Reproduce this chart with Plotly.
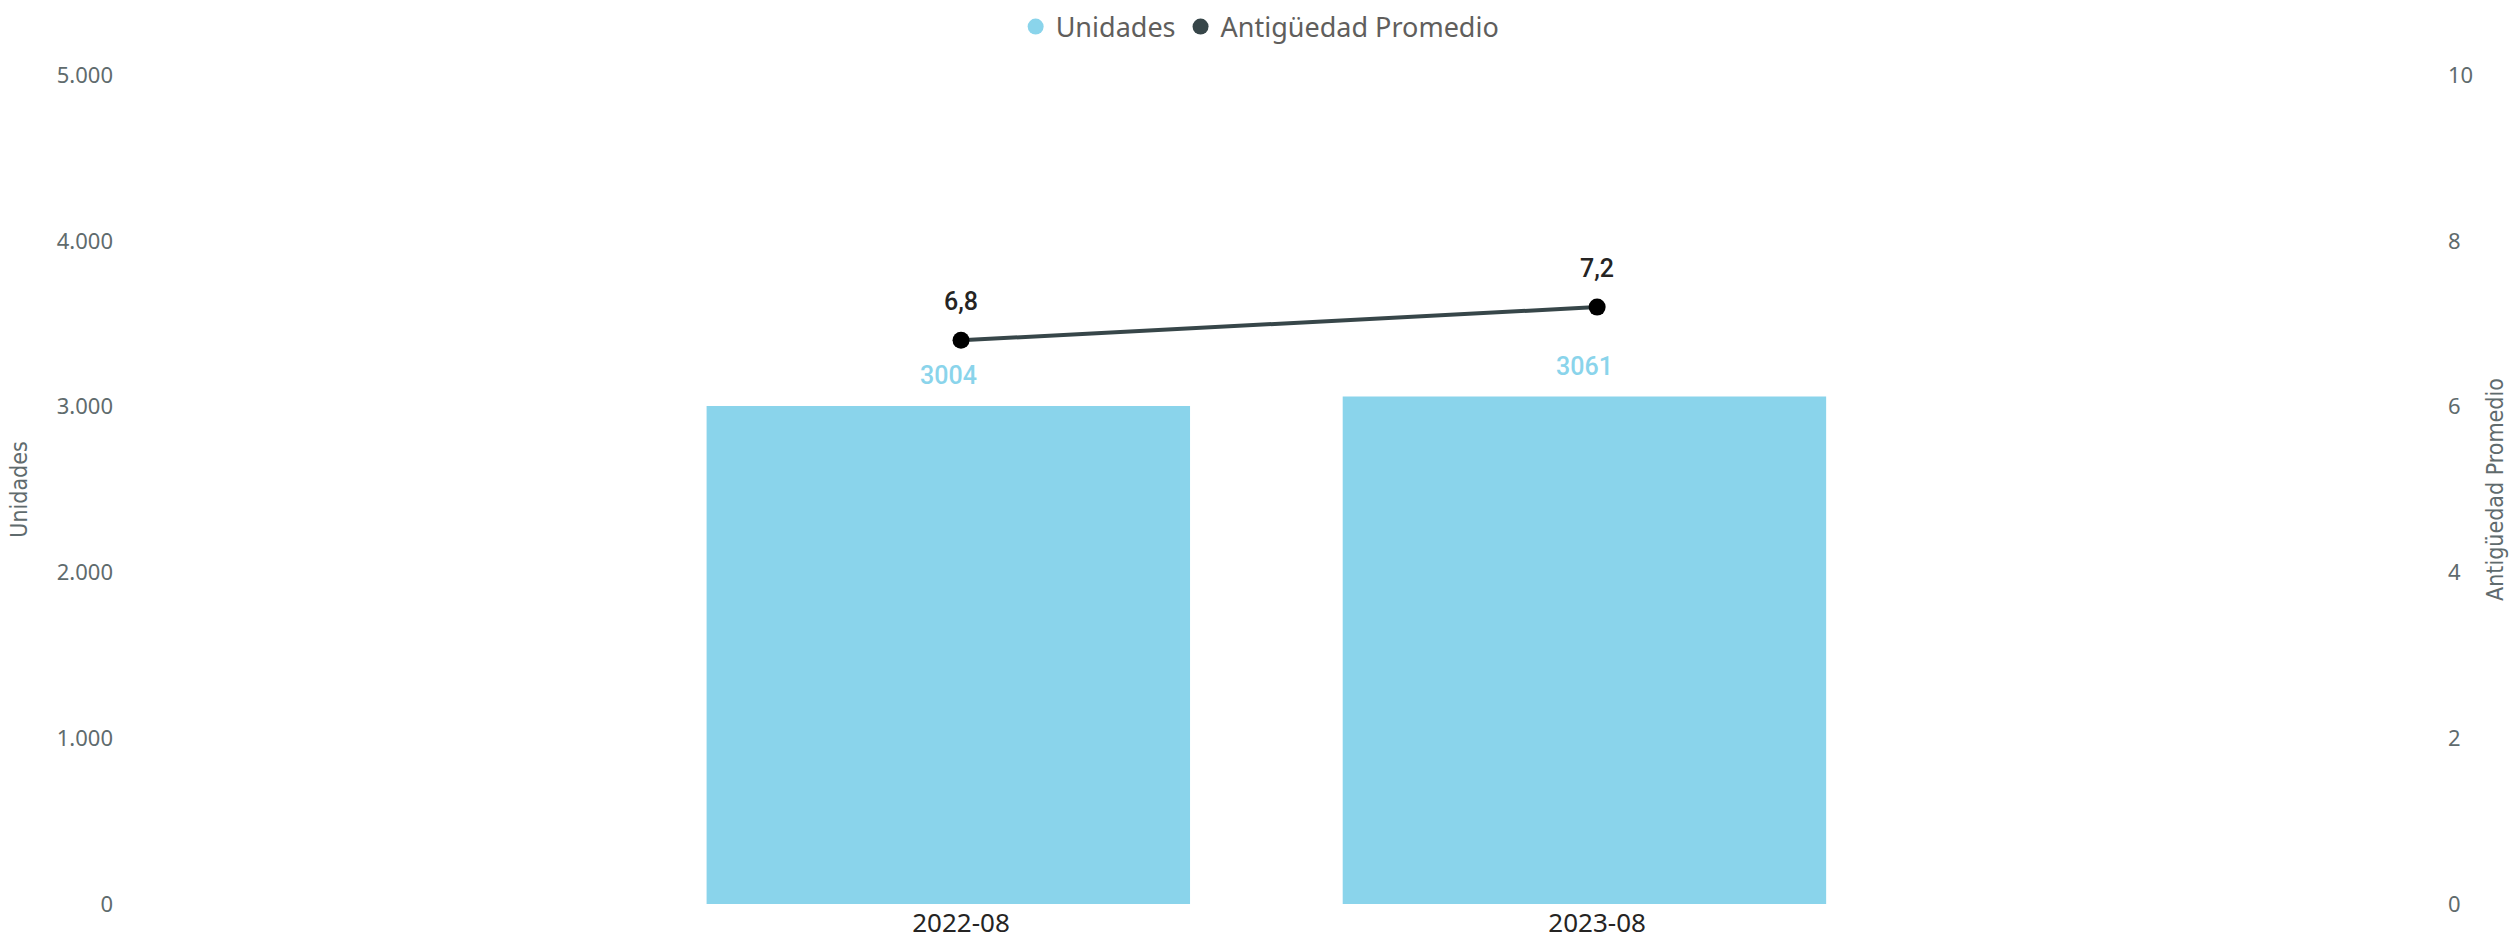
import plotly.graph_objects as go

categories = ["2022-08", "2023-08"]
unidades = [3004, 3061]
antiguedad = [6.8, 7.2]

left_ticks = [0, 1000, 2000, 3000, 4000, 5000]
right_ticks = [0, 2, 4, 6, 8, 10]

BAR_COLOR = "#8AD4EB"
LINE_COLOR = "#374649"
TICK_COLOR = "#5F6B6D"
BASE_FONT = "Segoe UI, Noto Sans, Open Sans, sans-serif"
LABEL_FONT = "Roboto, DejaVu Sans, sans-serif"
TITLE_FONT = "Liberation Sans Narrow, DejaVu Sans Condensed, sans-serif"

fig = go.Figure()

fig.add_trace(go.Bar(
    x=categories, y=unidades, name="Unidades",
    marker=dict(color=BAR_COLOR, line=dict(width=0)),
    width=0.76, offset=-0.40, showlegend=False,
    yaxis="y", hoverinfo="x+y",
))

fig.add_trace(go.Scatter(
    x=categories, y=antiguedad, name="Antigüedad Promedio",
    mode="lines+markers",
    line=dict(color=LINE_COLOR, width=4),
    marker=dict(color="#000000", size=17),
    yaxis="y2", showlegend=False,
))

# legend-only entries (circle symbols as in the reference)
fig.add_trace(go.Scatter(x=[None], y=[None], mode="markers", name="Unidades",
                         marker=dict(color=BAR_COLOR, size=22), showlegend=True))
fig.add_trace(go.Scatter(x=[None], y=[None], mode="markers", name="Antigüedad Promedio",
                         marker=dict(color=LINE_COLOR, size=22), showlegend=True))

annotations = []
for c, v in zip(categories, unidades):
    annotations.append(dict(
        x=c, y=v, xref="x", yref="y", text=str(v), showarrow=False,
        xshift=-13, yshift=30, yanchor="middle",
        font=dict(family=LABEL_FONT, size=25, color=BAR_COLOR, weight=500),
    ))
for c, v in zip(categories, antiguedad):
    annotations.append(dict(
        x=c, y=v, xref="x", yref="y2", text=f"{v:.1f}".replace(".", ","),
        showarrow=False, yshift=39, yanchor="middle",
        font=dict(family=LABEL_FONT, size=25, color="#252423", weight=500),
    ))

fig.update_layout(
    width=2512, height=943,
    margin=dict(l=122, r=72, t=75, b=39, autoexpand=False),
    paper_bgcolor="white", plot_bgcolor="white",
    separators=",.",
    font=dict(family=BASE_FONT, color=TICK_COLOR),
    showlegend=True,
    legend=dict(
        orientation="h", x=0.491, xanchor="center",
        y=1 - 27 / 943, yref="container", yanchor="middle",
        font=dict(family=BASE_FONT, size=27, color="#605E5C"),
        itemsizing="trace", itemwidth=30,
        bgcolor="rgba(0,0,0,0)",
    ),
    xaxis=dict(
        type="category", range=[-1.319, 2.325], automargin=False,
        showgrid=False, zeroline=False, showline=False,
        ticks="", ticklabelstandoff=1,
        tickfont=dict(family=BASE_FONT, size=26, color="#252423"),
    ),
    yaxis=dict(
        range=[0, 5000], tickvals=left_ticks, tickformat=",", automargin=False,
        showgrid=False, zeroline=False, showline=False,
        ticklabelstandoff=8,
        tickfont=dict(family=BASE_FONT, size=22, color=TICK_COLOR),
        title=dict(text="Unidades", standoff=22,
                   font=dict(family=TITLE_FONT, size=23, color=TICK_COLOR)),
    ),
    yaxis2=dict(
        range=[0, 10], tickvals=right_ticks, overlaying="y", side="right",
        automargin=False,
        showgrid=False, zeroline=False, showline=False,
        ticklabelstandoff=7,
        tickfont=dict(family=BASE_FONT, size=22, color=TICK_COLOR),
        title=dict(text="Antigüedad Promedio", standoff=14,
                   font=dict(family=TITLE_FONT, size=23, color=TICK_COLOR)),
    ),
    annotations=annotations,
)

fig.write_html(
    "out.html",
    config={"displayModeBar": False},
    post_script="document.body.style.margin='0';document.body.style.overflow='hidden';",
)
